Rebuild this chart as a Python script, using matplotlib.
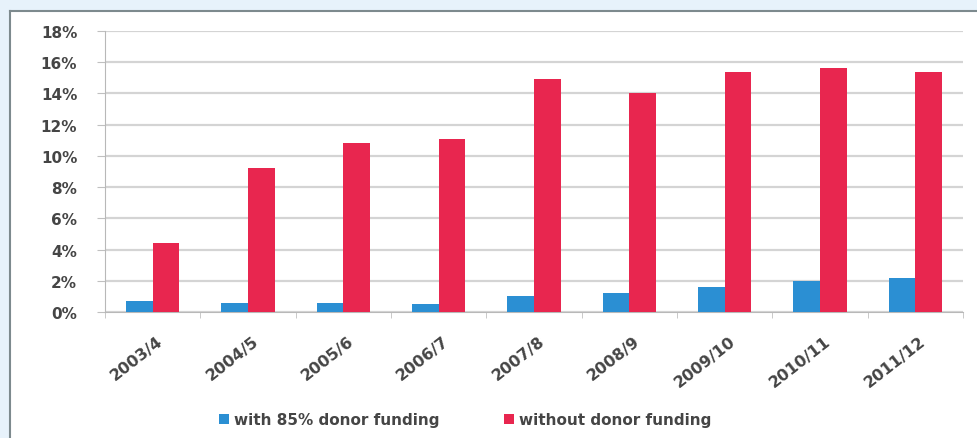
import matplotlib.pyplot as plt
from matplotlib.patches import Rectangle
from matplotlib.lines import Line2D
from matplotlib.transforms import ScaledTranslation
import numpy as np

years = ['2003/4', '2004/5', '2005/6', '2006/7', '2007/8',
         '2008/9', '2009/10', '2010/11', '2011/12']
with_donor = [0.7, 0.6, 0.6, 0.5, 1.0, 1.2, 1.6, 2.0, 2.2]
without_donor = [4.4, 9.2, 10.8, 11.1, 14.9, 14.0, 15.4, 15.6, 15.4]
series_names = ['with 85% donor funding', 'without donor funding']

blue = '#2b8fd3'
red = '#e8264f'
txt = '#454545'

plt.rcParams['font.family'] = ['DejaVu Sans']

fig = plt.figure(figsize=(9.77, 4.39), dpi=100)
fig.patch.set_facecolor('#e7f2fb')

# white chart box with grey border on left and top
W, H = 977, 439
fig.patches.append(Rectangle((10 / W, 0), 1 - 10 / W, 1 - 12 / H,
                             transform=fig.transFigure, facecolor='white',
                             edgecolor='none', zorder=-10))
fig.add_artist(Line2D([10 / W, 10 / W], [0, 1 - 12 / H], transform=fig.transFigure,
                      color='#7d8a8e', lw=1.5, zorder=-5))
fig.add_artist(Line2D([10 / W, 1], [1 - 12 / H, 1 - 12 / H], transform=fig.transFigure,
                      color='#7d8a8e', lw=1.5, zorder=-5))

ax = fig.add_axes([105 / W, 1 - 313 / H, (963 - 105) / W, (313 - 32) / H])
ax.set_facecolor('white')
ax.set_zorder(1)

x = np.arange(len(years))
bw = 0.28
ax.bar(x - bw / 2, with_donor, bw, color=blue, label=series_names[0], zorder=3)
ax.bar(x + bw / 2, without_donor, bw, color=red, label=series_names[1], zorder=3)

ax.set_xlim(-0.5, len(years) - 0.5)
ax.set_ylim(0, 18)
ax.set_yticks(np.arange(0, 19, 2))
ax.set_yticklabels([f'{v}%' for v in range(0, 19, 2)])
ax.yaxis.grid(True, color='#d4d4d4', lw=1.6, zorder=0)

for s in ['top', 'right']:
    ax.spines[s].set_visible(False)
ax.spines['left'].set_color('#b8b8b8')
ax.spines['bottom'].set_color('#b8b8b8')

ax.tick_params(axis='y', length=6, color='#c0c0c0', labelsize=11,
               labelcolor=txt, pad=14)
for lab in ax.get_yticklabels():
    lab.set_fontweight('bold')

ax.set_xticks(x)
ax.set_xticklabels(years, rotation=38, ha='right', va='top',
                   rotation_mode='anchor', fontsize=11.5, color=txt, fontweight='bold')
ax.tick_params(axis='x', which='major', length=0, pad=15)
shift = ScaledTranslation(4 / 100, 0, fig.dpi_scale_trans)
for lab in ax.get_xticklabels():
    lab.set_transform(lab.get_transform() + shift)
ax.set_xticks(np.arange(-0.5, len(years)), minor=True)
ax.tick_params(axis='x', which='minor', length=4, color='#c0c0c0')

leg = fig.legend(loc='center', bbox_to_anchor=(0.476, 1 - 421 / H), ncol=2,
                 frameon=False, fontsize=11, handlelength=0.65, handleheight=0.65,
                 columnspacing=4.2, handletextpad=0.35)
for t in leg.get_texts():
    t.set_color(txt)
    t.set_fontweight('bold')

fig.savefig('out.png', dpi=100, facecolor=fig.get_facecolor())
